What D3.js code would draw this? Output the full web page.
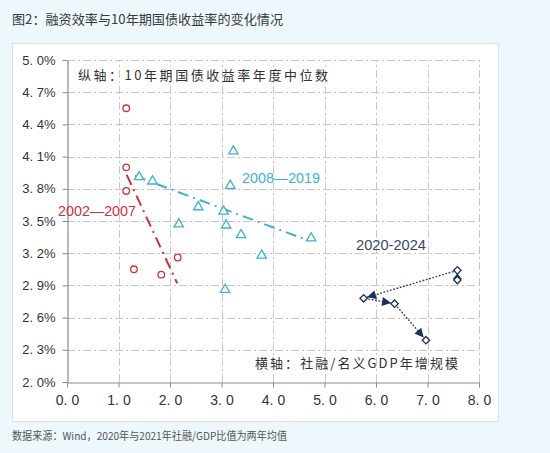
<!DOCTYPE html>
<html>
<head>
<meta charset="utf-8">
<script src="https://cdn.jsdelivr.net/npm/d3@7"></script>
<style>
html,body{margin:0;padding:0;background:#eef7fb;}
svg{display:block;}
</style>
</head>
<body>
<svg id="chart" width="550" height="453"></svg>
<script>
// ---- data ----
const xTicks = [0,1,2,3,4,5,6,7,8];
const xTickLabels = ["0. 0","1. 0","2. 0","3. 0","4. 0","5. 0","6. 0","7. 0","8. 0"];
const yTicks = [2.0,2.3,2.6,2.9,3.2,3.5,3.8,4.1,4.4,4.7,5.0];
const yTickLabels = ["2. 0%","2. 3%","2. 6%","2. 9%","3. 2%","3. 5%","3. 8%","4. 1%","4. 4%","4. 7%","5. 0%"];

// 2002-2007 (red circles)
const s1X = [1.15,1.15,1.15,1.30,1.83,2.15];
const s1Y = [4.55,4.00,3.78,3.05,3.00,3.16];
const s1TrendX = [1.16,2.14];
const s1TrendY = [3.93,2.92];

// 2008-2019 (cyan triangles)
const s2X = [1.40,1.66,2.17,2.55,3.04,3.09,3.23,3.17,3.38,3.78,3.07,4.74];
const s2Y = [3.91,3.87,3.47,3.63,3.59,3.46,4.15,3.83,3.37,3.18,2.86,3.34];
const s2TrendX = [1.32,4.62];
const s2TrendY = [3.92,3.33];

// 2020-2024 (navy diamonds, connected path)
const s3X = [7.58,7.58,5.76,6.36,6.97];
const s3Y = [2.95,3.04,2.78,2.73,2.39];

const seriesLabels = ["2002—2007","2008—2019","2020-2024"];
const titleText = "图2：融资效率与10年期国债收益率的变化情况";
const yNote = "纵轴：10年期国债收益率年度中位数";
const xNote = "横轴：社融/名义GDP年增规模";
const sourceText = "数据来源：Wind，2020年与2021年社融/GDP比值为两年均值";

// ---- drawing ----
const RED = "#cc3236", CYAN = "#3fb0d6", NAVY = "#1d2f5f";
const svg = d3.select("#chart");
const cjk = "'Noto Sans CJK SC', 'Liberation Sans', sans-serif";

svg.append("text").attr("x",12).attr("y",24).attr("font-family",cjk).attr("font-size",13)
  .attr("fill","#3a3a3a").attr("textLength",271).attr("lengthAdjust","spacingAndGlyphs").text(titleText);

svg.append("rect").attr("x",12.5).attr("y",43.5).attr("width",486).attr("height",378)
  .attr("fill","#fff").attr("stroke","#dbe4e8");

svg.append("text").attr("x",12).attr("y",440).attr("font-family",cjk).attr("font-size",11)
  .attr("fill","#555").attr("textLength",275).attr("lengthAdjust","spacingAndGlyphs").text(sourceText);

const x = d3.scaleLinear().domain([0,8]).range([67,479]);
const y = d3.scaleLinear().domain([2.0,5.0]).range([382,60]);

// grid
const grid = svg.append("g").attr("stroke","#c8c8c8").attr("stroke-width",1)
  .attr("stroke-dasharray","8,3,2,3");
grid.selectAll(".h").data(yTicks.filter(d=>d>2.0)).join("line")
  .attr("x1",x(0)).attr("x2",x(8)).attr("y1",d=>Math.round(y(d))+0.5).attr("y2",d=>Math.round(y(d))+0.5);
grid.selectAll(".v").data(xTicks.filter(d=>d>0)).join("line")
  .attr("y1",y(2.0)).attr("y2",y(5.0)).attr("x1",d=>Math.round(x(d))+0.5).attr("x2",d=>Math.round(x(d))+0.5);

// axes
const gy = svg.append("g").attr("transform",`translate(${Math.round(x(0))+0.5},0)`)
  .call(d3.axisLeft(y).tickValues(yTicks).tickFormat((d,i)=>yTickLabels[i]).tickSize(5).tickSizeOuter(0).tickPadding(7));
const gx = svg.append("g").attr("transform",`translate(0,${Math.round(y(2.0))+0.5})`)
  .call(d3.axisBottom(x).tickValues(xTicks).tickFormat((d,i)=>xTickLabels[i]).tickSize(5).tickSizeOuter(0).tickPadding(8));
[gy,gx].forEach(g=>{
  g.selectAll("path.domain").attr("stroke","#8a8a8a").attr("stroke-width",1.2);
  g.selectAll(".tick line").attr("stroke","#8a8a8a");
  g.selectAll("text").attr("fill","#333").attr("font-family","'Liberation Sans', Arial, sans-serif");
});
gy.selectAll("text").attr("font-size",13);
gx.selectAll("text").attr("font-size",14);

// notes
svg.append("text").attr("x",78).attr("y",80).attr("font-family",cjk).attr("font-size",13)
  .attr("fill","#333").attr("textLength",250).attr("lengthAdjust","spacing").text(yNote);
svg.append("text").attr("x",255).attr("y",368).attr("font-family",cjk).attr("font-size",13)
  .attr("fill","#333").attr("textLength",203).attr("lengthAdjust","spacing").text(xNote);

// trend lines
const line = d3.line().x(d=>x(d[0])).y(d=>y(d[1]));
svg.append("path").attr("d",line(d3.zip(s1TrendX,s1TrendY))).attr("fill","none")
  .attr("stroke",RED).attr("stroke-width",2).attr("stroke-dasharray","11,5,2,5");
svg.append("path").attr("d",line(d3.zip(s2TrendX,s2TrendY))).attr("fill","none")
  .attr("stroke",CYAN).attr("stroke-width",2).attr("stroke-dasharray","11,5,2,5");

// series 1 circles
svg.append("g").selectAll("circle").data(d3.zip(s1X,s1Y)).join("circle")
  .attr("cx",d=>x(d[0])).attr("cy",d=>y(d[1])).attr("r",3.3)
  .attr("fill","#fff").attr("stroke",RED).attr("stroke-width",1.3);

// series 2 triangles
svg.append("g").selectAll("path").data(d3.zip(s2X,s2Y)).join("path")
  .attr("transform",d=>`translate(${x(d[0])},${y(d[1])})`)
  .attr("d",d3.symbol(d3.symbolTriangle,38)())
  .attr("fill","#fff").attr("stroke",CYAN).attr("stroke-width",1.3);

// series 3 path with arrows
const pts3 = d3.zip(s3X,s3Y).map(d=>[x(d[0]),y(d[1])]);
svg.append("path").attr("d",d3.line()(pts3)).attr("fill","none")
  .attr("stroke","#34446e").attr("stroke-width",1.4).attr("stroke-dasharray","1.8,1.6");
const arrows = svg.append("g").attr("fill",NAVY);
for(let i=0;i<pts3.length-1;i++){
  const [x0,y0]=pts3[i],[x1,y1]=pts3[i+1];
  const L=Math.hypot(x1-x0,y1-y0), ux=(x1-x0)/L, uy=(y1-y0)/L;
  const off = Math.min(3.5, L/3), len = Math.min(9, L*0.55);
  const tx=x1-ux*off, ty=y1-uy*off, bx=tx-ux*len, by=ty-uy*len;
  const w=4.5;
  arrows.append("path").attr("d",`M${tx},${ty}L${bx-uy*w},${by+ux*w}L${bx+uy*w},${by-ux*w}Z`);
}
svg.append("g").selectAll("path").data(pts3).join("path")
  .attr("transform",d=>`translate(${d[0]},${d[1]}) rotate(45)`)
  .attr("d","M-2.6,-2.6H2.6V2.6H-2.6Z")
  .attr("fill","#fff").attr("stroke",NAVY).attr("stroke-width",1.3);

// series labels
const lab = svg.append("g").attr("font-family","'Liberation Sans', Arial, sans-serif").attr("font-size",14);
lab.append("text").attr("x",58).attr("y",216).attr("fill",RED).attr("textLength",78).attr("lengthAdjust","spacingAndGlyphs").text(seriesLabels[0]);
lab.append("text").attr("x",242).attr("y",183).attr("fill",CYAN).attr("textLength",78).attr("lengthAdjust","spacingAndGlyphs").text(seriesLabels[1]);
lab.append("text").attr("x",356).attr("y",250).attr("fill","#3a4868").attr("textLength",70).attr("lengthAdjust","spacingAndGlyphs").text(seriesLabels[2]);
</script>
</body>
</html>
